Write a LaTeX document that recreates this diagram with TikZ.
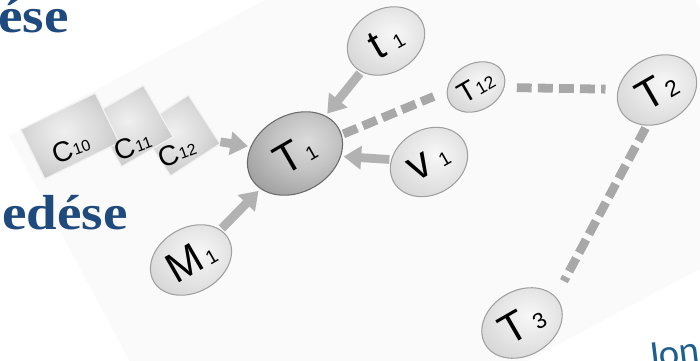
\documentclass[tikz,border=0pt]{standalone}
\usepackage{fontspec}
\setmainfont{Liberation Sans}
\newfontfamily\serifbold{Liberation Serif}
\newfontfamily\carlfont{Carlito}
\usetikzlibrary{arrows.meta,shapes.geometric}
\definecolor{titleblue}{HTML}{1F4A7E}
\definecolor{jonblue}{HTML}{1F5F8F}
\definecolor{arrgrey}{HTML}{B2B2B2}
\definecolor{dashgrey}{HTML}{A8A8A8}
\definecolor{bgfaint}{HTML}{FAFAFA}
\definecolor{rimgrey}{HTML}{A0A0A0}
\definecolor{darkrim}{HTML}{6A6A6A}
\pgfdeclareradialshading{ballshade}{\pgfpoint{4bp}{5bp}}{color(0bp)=(white!97!black); color(14bp)=(white!91!black); color(50bp)=(white!74!black); color(80bp)=(white!70!black)}
\pgfdeclareradialshading{ballshadedark}{\pgfpoint{6bp}{7bp}}{color(0bp)=(white!86!black); color(14bp)=(white!77!black); color(50bp)=(white!45!black); color(80bp)=(white!40!black)}
\pgfdeclareradialshading{boxshade}{\pgfpoint{-3bp}{3bp}}{color(0bp)=(white!94!black); color(18bp)=(white!85!black); color(40bp)=(white!71!black); color(80bp)=(white!62!black)}
\begin{document}
\begin{tikzpicture}[x=0.02cm,y=-0.02cm,
  ball/.style={ellipse, draw=rimgrey, line width=0.6pt, shading=ballshade, inner sep=0pt, rotate=30, text=black},
  darkball/.style={ball, shading=ballshadedark, draw=darkrim},
  card/.style={rectangle, draw=white!95!black, line width=0.7pt, shading=boxshade, inner sep=0pt},
  cardlabel/.style={inner sep=0pt, rotate=20, text=black},
  feed/.style={line width=5pt, draw=arrgrey, -{Triangle[length=10pt,width=13pt]}, shorten >=1.5pt, shorten <=1pt},
  link/.style={line width=5pt, draw=dashgrey, dash pattern=on 8.5pt off 3.5pt},
]
\useasboundingbox (0,0) rectangle (700,361);
\clip (0,0) rectangle (700,361);
% faint rotated background sheet
\fill[bgfaint] (9,136) -- (600,-178) -- (808,211) -- (218,526) -- cycle;

% title fragments
\node[anchor=base east, text=titleblue, inner sep=0pt, xscale=1.12,
      font={\serifbold\bfseries\fontsize{28}{28}\selectfont}] (titleA) at (69,33) {ése};
\node[anchor=base east, text=titleblue, inner sep=0pt, xscale=1.12,
      font={\serifbold\bfseries\fontsize{28}{28}\selectfont}] (titleB) at (128,230) {edése};
\node[anchor=base west, text=jonblue, inner sep=0pt, rotate=7,
      font={\carlfont\fontsize{22}{22}\selectfont}] (titleC) at (648,369) {Jon};

% cards
\node[card, minimum width=1.18cm, minimum height=1.16cm, rotate=33] (C12) at (179.5,135.5) {};
\node[card, minimum width=1.19cm, minimum height=1.19cm, rotate=30] (C11) at (132.5,126) {};
\node[card, minimum width=1.66cm, minimum height=1.10cm, rotate=26] (C10) at (70,136) {};
\node[cardlabel] (c10l) at (71,149) {\fontsize{16}{16}\selectfont C\hspace{0.6pt}\raisebox{1.2pt}{\fontsize{9}{9}\selectfont 10}};
\node[cardlabel] (c11l) at (133,146) {\fontsize{16}{16}\selectfont C\hspace{0.6pt}\raisebox{1.2pt}{\fontsize{9}{9}\selectfont 11}};
\node[cardlabel] (c12l) at (177,153) {\fontsize{16}{16}\selectfont C\hspace{0.6pt}\raisebox{1.2pt}{\fontsize{9}{9}\selectfont 12}};

% balls
\node[darkball, minimum width=2.01cm, minimum height=1.54cm] (T1) at (295,153.5)
  {\fontsize{24}{24}\selectfont T\hspace{2pt}{\fontsize{11}{11}\selectfont 1}};
\node[ball, minimum width=1.63cm, minimum height=1.27cm] (t1) at (386,41)
  {\fontsize{24}{24}\selectfont t\hspace{6pt}{\fontsize{11}{11}\selectfont 1}};
\node[ball, minimum width=1.62cm, minimum height=1.30cm] (v1) at (429,162)
  {\fontsize{25}{25}\selectfont v\hspace{5pt}{\fontsize{11}{11}\selectfont 1}};
\node[ball, minimum width=1.22cm, minimum height=0.93cm] (T12) at (476,87)
  {\fontsize{16}{16}\selectfont T\hspace{0.5pt}{\fontsize{10}{10}\selectfont 12}};
\node[ball, minimum width=1.67cm, minimum height=1.31cm] (T2) at (657,90)
  {\fontsize{24}{24}\selectfont T\hspace{1pt}{\fontsize{13}{13}\selectfont 2}};
\node[ball, minimum width=1.70cm, minimum height=1.30cm] (T3) at (522,323)
  {\fontsize{24}{24}\selectfont T\hspace{4pt}{\fontsize{12.5}{12.5}\selectfont 3}};
\node[ball, minimum width=1.72cm, minimum height=1.29cm] (M1) at (191,260)
  {\fontsize{24}{24}\selectfont M\hspace{2pt}{\fontsize{11}{11}\selectfont 1}};

% arrows into T1
\draw[feed] (t1) -- (T1);
\draw[feed] (v1) -- (T1);
\draw[feed] (M1) -- (T1);
\draw[feed, shorten <=0.5pt] (C12) -- (T1);

% dashed links
\draw[link, shorten <=1pt, shorten >=8pt] (T1.-8) -- (T12.158);
\draw[link, shorten <=7pt, shorten >=7pt] (T12) -- (T2);
\draw[link, shorten <=1.5pt, shorten >=10pt] (T2.224) -- (T3.8);
\end{tikzpicture}
\end{document}
